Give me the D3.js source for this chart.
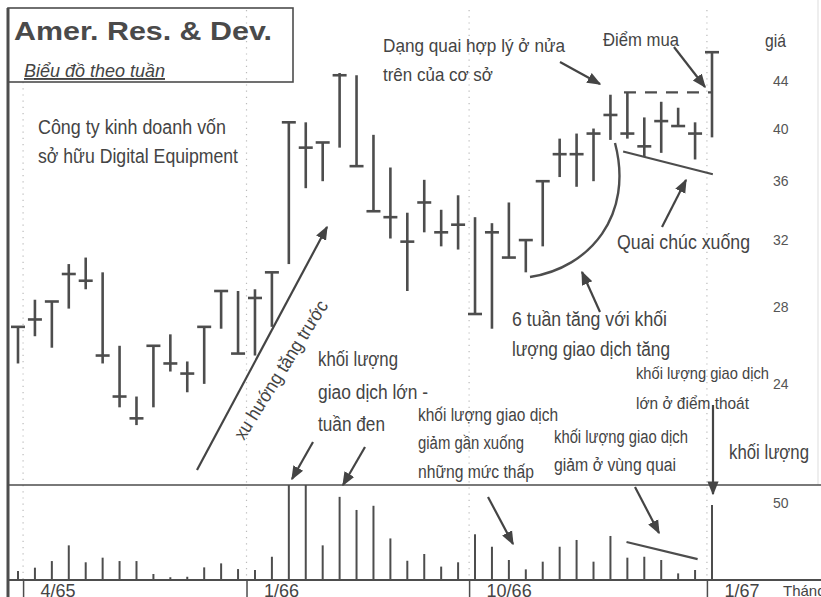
<!DOCTYPE html>
<html>
<head>
<meta charset="utf-8">
<script src="https://cdnjs.cloudflare.com/ajax/libs/d3/7.8.5/d3.min.js"></script>
<style>
    body { margin: 0; background: #fff; }
    svg text { font-family: "Liberation Sans", Arial, sans-serif; fill: #444; }
</style>
</head>
<body>
<div class="visholder"></div>
<script>
// weekly price bars (high / low / close)
const highs = [26.9, 28.4, 28.3, 30.5, 30.9, 30.0, 25.9, 23.4, 25.9, 26.5,
    25.1, 26.9, 28.9, 28.9, 29.0, 30.0, 40.5, 40.5, 38.9, 44.7,
    44.5, 39.5, 37.0, 33.8, 36.1, 34.0, 35.0, 33.5, 33.1, 34.5,
    32.0, 36.0, 39.2, 39.6, 40.0, 42.8, 43.0, 40.9, 42.2, 41.7,
    40.5, 46.6];
const lows = [25.0, 26.4, 25.8, 27.9, 29.0, 25.0, 22.9, 22.1, 22.9, 24.6,
    23.6, 24.0, 26.8, 25.5, 25.4, 26.9, 30.5, 35.5, 36.0, 38.5,
    37.1, 33.9, 32.1, 28.9, 32.5, 31.6, 31.4, 27.6, 26.8, 30.9,
    30.0, 31.6, 36.3, 35.6, 36.0, 39.1, 39.2, 37.8, 38.1, 40.2,
    37.6, 39.3];
const closes = [26.9, 27.3, 28.3, 29.9, 29.5, 25.4, 23.4, 22.4, 25.9, 25.0,
    24.5, 26.9, 28.9, 25.5, 28.5, 30.0, 40.5, 38.5, 38.9, 44.5,
    37.1, 33.9, 33.5, 31.9, 34.5, 32.5, 33.0, 27.6, 32.5, 30.9,
    32.0, 36.0, 38.0, 38.0, 39.6, 41.1, 39.6, 38.6, 40.6, 40.2,
    39.6, 46.6];
// weekly volume (thousands), the two big weeks run off the top of the panel
const volumes = [5.8, 8, 12.3, 22.5, 11.5, 14.5, 12.3, 12.3, 3.9, 1.8,
    2.1, 8.2, 10.8, 7.1, 6.5, 15.1, 70, 70, 22.5, 54,
    45.5, 48.2, 27, 12.5, 16.9, 8.7, 11.5, 29.7, 21.6, 13,
    6.9, 11.9, 21.6, 26, 11.9, 28.6, 14.5, 15.1, 13, 4.3,
    6.5, 48.7];

const priceTicks = [24, 28, 32, 36, 40, 44];
const volumeTicks = [50];
const monthLabels = ["4/65", "1/66", "10/66", "1/67"];
const monthWeeks = [0.3, 13.5, 26.65, 40.7];

const width = 821, height = 597;
const ink = "#4d4d4d";

let svg = d3.select(".visholder").append("svg")
    .attr("width", width)
    .attr("height", height);

// scales
let x = d3.scaleLinear().domain([0, highs.length - 1]).range([18, 712]);
let y = d3.scaleLog().domain([20, 50]).range([475, 17]);
let vy = d3.scaleLinear().domain([0, 61.7]).range([580, 485]).clamp(true);

// arrowhead
svg.append("defs").append("marker")
    .attr("id", "head")
    .attr("viewBox", "0 0 10 10")
    .attr("refX", 9).attr("refY", 5)
    .attr("markerWidth", 14).attr("markerHeight", 14)
    .attr("markerUnits", "userSpaceOnUse")
    .attr("orient", "auto")
    .append("path").attr("d", "M0,1 L10,5 L0,9 Z").style("fill", "#444");

// dotted month grid
svg.append("g").selectAll("line").data(monthWeeks).enter().append("line")
    .attr("x1", d => x(d)).attr("x2", d => x(d))
    .attr("y1", d => d < 1 ? 82 : 10).attr("y2", 580)
    .style("stroke", "#bbb").style("stroke-width", 1.2)
    .style("stroke-dasharray", "1.2,5");

// frame
svg.append("line").attr("x1", 8).attr("x2", 8).attr("y1", 8).attr("y2", height)
    .style("stroke", ink).style("stroke-width", 3);
svg.append("line").attr("x1", 818).attr("x2", 818).attr("y1", 0).attr("y2", 485)
    .style("stroke", "#ddd").style("stroke-width", 1);
svg.append("rect").attr("x", 8).attr("y", 8).attr("width", 285).attr("height", 74)
    .style("fill", "none").style("stroke", ink).style("stroke-width", 1.6);
svg.append("line").attr("x1", 8).attr("x2", width).attr("y1", 485).attr("y2", 485)
    .style("stroke", ink).style("stroke-width", 1.6);

// price bars
let bars = svg.append("g");
bars.selectAll(".hl").data(highs).enter().append("line")
    .attr("class", "hl")
    .attr("x1", (d, i) => x(i)).attr("x2", (d, i) => x(i))
    .attr("y1", d => y(d)).attr("y2", (d, i) => y(lows[i]))
    .style("stroke", ink).style("stroke-width", 2.6);
bars.selectAll(".cl").data(closes).enter().append("line")
    .attr("class", "cl")
    .attr("x1", (d, i) => x(i) - 7).attr("x2", (d, i) => x(i) + 7)
    .attr("y1", d => y(d)).attr("y2", d => y(d))
    .style("stroke", ink).style("stroke-width", 2.6);

// volume bars
svg.append("g").selectAll("line").data(volumes).enter().append("line")
    .attr("x1", (d, i) => x(i)).attr("x2", (d, i) => x(i))
    .attr("y1", vy(0)).attr("y2", d => vy(d))
    .style("stroke", ink).style("stroke-width", 2);

// right axes (labels only)
let priceAxis = svg.append("g").attr("transform", "translate(773,0)")
    .call(d3.axisRight(y).tickValues(priceTicks).tickSize(0).tickPadding(0).tickFormat(d3.format("d")));
let volAxis = svg.append("g").attr("transform", "translate(773,0)")
    .call(d3.axisRight(vy).tickValues(volumeTicks).tickSize(0).tickPadding(0));
[priceAxis, volAxis].forEach(a => {
    a.select(".domain").remove();
    a.selectAll("text").style("font-family", "'Liberation Sans', Arial, sans-serif")
        .style("font-size", "14px").style("fill", "#555");
});

// month axis along the bottom
let monthAxis = svg.append("g").attr("transform", "translate(0,580)")
    .call(d3.axisBottom(x).tickValues(monthWeeks).tickSize(17)
        .tickFormat((d, i) => monthLabels[i]));
monthAxis.select(".domain").attr("d", "M8,0H" + width).style("stroke", ink).style("stroke-width", 2.2);
monthAxis.selectAll(".tick line").style("stroke", ink).style("stroke-width", 1.5);
monthAxis.selectAll("text").attr("text-anchor", "start").attr("x", 17).attr("y", 17).attr("dy", 0)
    .style("font-size", "18px").style("fill", "#444");
svg.append("text").text("Tháng").attr("x", 783).attr("y", 596).style("font-size", "15px");

// dashed top of the handle and the two down-sloping guides
svg.append("line")
    .attr("x1", x(35.8)).attr("x2", x(41)).attr("y1", y(43)).attr("y2", y(43))
    .style("stroke", ink).style("stroke-width", 2.4).style("stroke-dasharray", "12,9");
svg.append("line")
    .attr("x1", x(35.75)).attr("x2", x(41.05)).attr("y1", y(38.2)).attr("y2", y(36.5))
    .style("stroke", ink).style("stroke-width", 2.2);
svg.append("line")
    .attr("x1", x(35.95)).attr("x2", x(40.15)).attr("y1", vy(24.7)).attr("y2", vy(13.6))
    .style("stroke", ink).style("stroke-width", 2.2);

// cup outline
svg.append("path").attr("d", "M530,277 C590,268 634,215 615,143")
    .style("fill", "none").style("stroke", ink).style("stroke-width", 2.4);

// annotation arrows [x1, y1, x2, y2]
const arrows = [
    [197, 470, 327, 227],
    [560, 62, 600, 84],
    [674, 47, 705, 87],
    [662, 227, 686, 180],
    [600, 312, 582, 272],
    [313, 442, 292, 479],
    [365, 447, 343, 485],
    [488, 497, 513, 544],
    [635, 487, 659, 533],
    [713, 405, 713, 494]
];
svg.append("g").selectAll("line").data(arrows).enter().append("line")
    .attr("x1", d => d[0]).attr("y1", d => d[1]).attr("x2", d => d[2]).attr("y2", d => d[3])
    .style("stroke", "#444").style("stroke-width", 2.2)
    .attr("marker-end", "url(#head)");

// title box
svg.append("text").text("Amer. Res. & Dev.")
    .attr("x", 14).attr("y", 40)
    .attr("textLength", 258).attr("lengthAdjust", "spacingAndGlyphs")
    .style("font-weight", "bold").style("font-size", "26px").style("fill", "#4a4a4a");
svg.append("text").text("Biểu đồ theo tuần")
    .attr("x", 24).attr("y", 77)
    .attr("textLength", 141).attr("lengthAdjust", "spacingAndGlyphs")
    .style("font-style", "italic").style("font-size", "19px")
    .style("text-decoration", "underline");

// notes [text, x, baseline, size, width] - the book's face is a narrow sans
const notes = [
    ["Công ty kinh doanh vốn", 38, 134, 20, 188],
    ["sở hữu Digital Equipment", 38, 163, 20, 200],
    ["Dạng quai hợp lý ở nửa", 383, 52, 19, 182],
    ["trên của cơ sở", 383, 81, 19, 110],
    ["Điểm mua", 603, 46, 19, 76],
    ["giá", 765, 47, 19, 21],
    ["Quai chúc xuống", 617, 249, 20, 133],
    ["6 tuần tăng với khối", 512, 326, 20, 155],
    ["lượng giao dịch tăng", 512, 356, 20, 158],
    ["khối lượng", 318, 366, 20, 80],
    ["giao dịch lớn -", 318, 399, 20, 110],
    ["tuần đen", 318, 431, 20, 67],
    ["khối lượng giao dịch", 418, 421, 18, 140],
    ["giảm gần xuống", 418, 449, 18, 106],
    ["những mức thấp", 418, 478, 18, 116],
    ["khối lượng giao dịch", 554, 443, 18, 134],
    ["giảm ở vùng quai", 554, 471, 18, 122],
    ["khối lượng giao dịch", 636, 379, 17, 133],
    ["lớn ở điểm thoát", 636, 409, 17, 113],
    ["khối lượng", 729, 459, 20, 80]
];
svg.append("g").selectAll("text").data(notes).enter().append("text")
    .text(d => d[0])
    .attr("x", d => d[1]).attr("y", d => d[2])
    .attr("textLength", d => d[4]).attr("lengthAdjust", "spacingAndGlyphs")
    .style("font-size", d => d[3] + "px");

svg.append("text").text("xu hướng tăng trước")
    .attr("transform", "translate(244,441) rotate(-58)")
    .attr("textLength", 160).attr("lengthAdjust", "spacingAndGlyphs")
    .style("font-size", "19px");
</script>
</body>
</html>
